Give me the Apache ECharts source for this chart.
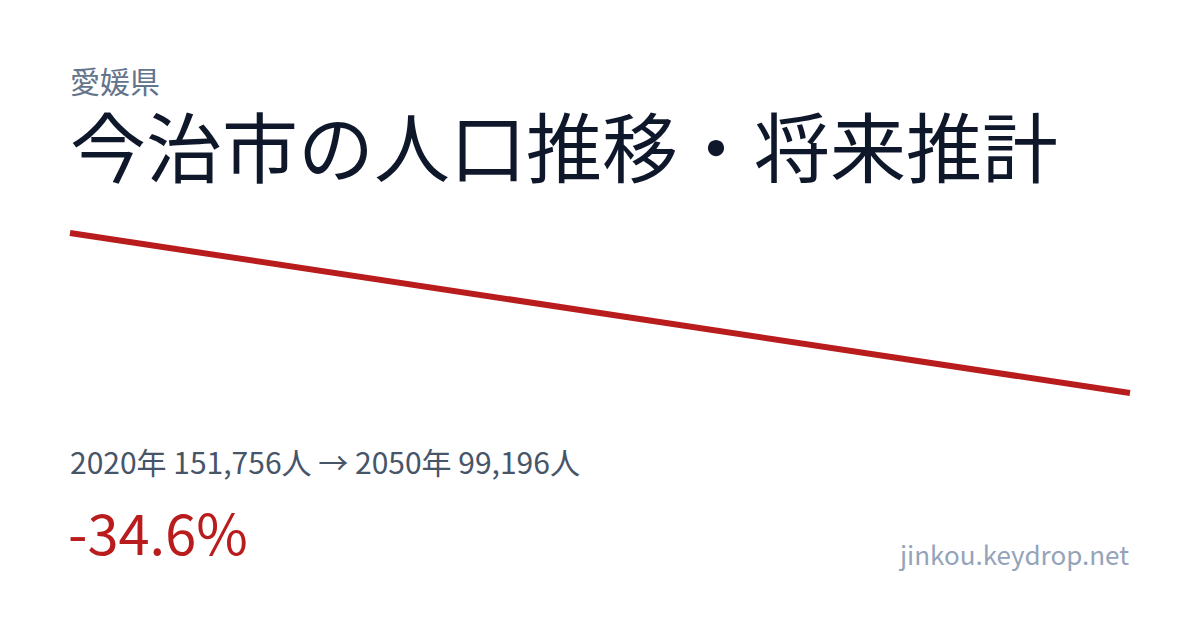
<!DOCTYPE html>
<html>
<head>
<meta charset="utf-8">
<script src="https://cdn.jsdelivr.net/npm/echarts@6/dist/echarts.min.js"></script>
<style>
  html, body { margin: 0; padding: 0; background: #ffffff; }
  #chart { width: 1200px; height: 630px; }
</style>
</head>
<body>
<div id="chart"></div>
<script>
(function() {
    var years = ['2020', '2050'];
    var population = [151756, 99196];

    var prefecture = '愛媛県';
    var title = '今治市の人口推移・将来推計';
    var summary = '2020年 151,756人 → 2050年 99,196人';
    var change = '-34.6%';
    var site = 'jinkou.keydrop.net';

    var font = '"Noto Sans CJK JP", "Noto Sans", sans-serif';
    var red = '#b91c1c';

    var chart = echarts.init(document.getElementById('chart'), null, { renderer: 'svg' });

    chart.setOption({
        animation: false,
        backgroundColor: '#ffffff',
        grid: { left: 70, right: 70, top: 233, bottom: 237 },
        xAxis: {
            type: 'category',
            data: years,
            boundaryGap: false,
            show: false
        },
        yAxis: {
            type: 'value',
            min: 'dataMin',
            max: 'dataMax',
            show: false
        },
        series: [{
            type: 'line',
            data: population,
            symbol: 'none',
            lineStyle: { color: red, width: 6, cap: 'butt' }
        }],
        graphic: [
            {
                type: 'text', left: 70, top: 64,
                style: { text: prefecture, fontSize: 30, lineHeight: 32, fontFamily: font, fill: '#64748b' }
            },
            {
                type: 'text', left: 70, top: 104,
                style: { text: title, fontSize: 76, lineHeight: 80, fontFamily: font, fill: '#0f172a' }
            },
            {
                type: 'text', left: 70, top: 446,
                style: { text: summary, fontSize: 30, fontFamily: font, fill: '#475569' }
            },
            {
                type: 'text', left: 68, top: 502,
                style: { text: change, fontSize: 56, fontFamily: font, fill: red }
            },
            {
                type: 'text', right: 71, top: 540,
                style: { text: site, fontSize: 26, fontFamily: font, fill: '#94a3b8' }
            }
        ]
    });

    window.addEventListener('resize', function() { chart.resize(); });
})();
</script>
</body>
</html>
